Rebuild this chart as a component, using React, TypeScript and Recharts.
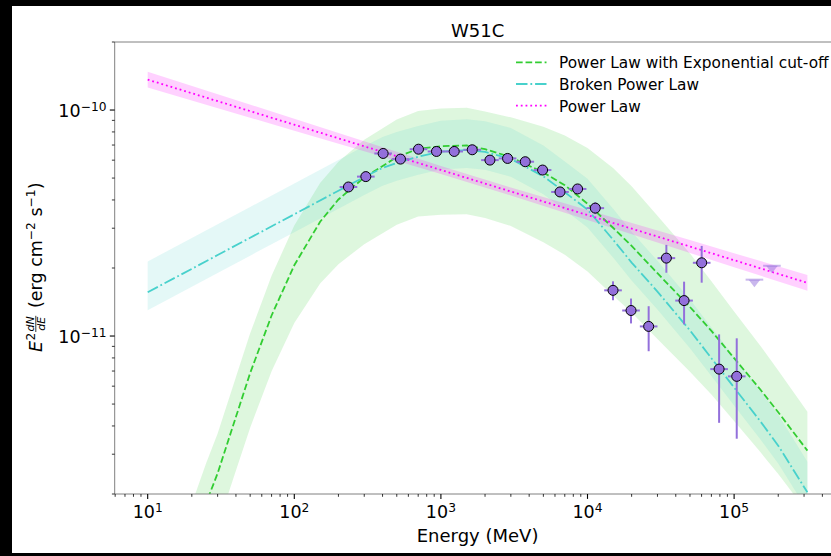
import React from 'react';
import { ComposedChart, XAxis, YAxis, Line, Area, Scatter, ErrorBar, ReferenceLine } from 'recharts';

// ---------- data ----------
// Power law with exponential cut-off (model curve + band)
const plecEnergy = [20, 25, 30, 40, 50, 70, 100, 150, 200, 300, 500, 700, 1000, 1500, 2000, 3000, 5000, 7000, 1e4, 1.5e4, 2e4, 3e4, 5e4, 7e4, 1e5, 1.5e5, 2e5, 316228];
const plecFlux = [1.21e-12, 1.82e-12, 2.47e-12, 4.39e-12, 6.86e-12, 1.233e-11, 2.056e-11, 3.204e-11, 4.02e-11, 5.03e-11, 6.19e-11, 6.73e-11, 6.92e-11, 6.97e-11, 6.71e-11, 6.19e-11, 5.29e-11, 4.65e-11, 3.85e-11, 3.006e-11, 2.505e-11, 1.896e-11, 1.344e-11, 1.054e-11, 7.98e-12, 5.83e-12, 4.6e-12, 3.11e-12];
const plecHi = [1.81e-12, 2.73e-12, 3.7e-12, 6.58e-12, 1.028e-11, 1.848e-11, 3.08e-11, 4.75e-11, 5.91e-11, 7.39e-11, 9.09e-11, 9.89e-11, 1.017e-10, 1.024e-10, 9.86e-11, 9.28e-11, 8.43e-11, 7.71e-11, 6.79e-11, 5.52e-11, 4.6e-11, 3.41e-11, 2.32e-11, 1.749e-11, 1.285e-11, 9.11e-12, 7.04e-12, 4.62e-12];
const plecLo = [7.29e-13, 1.074e-12, 1.443e-12, 2.54e-12, 3.93e-12, 6.99e-12, 1.142e-11, 1.708e-11, 2.08e-11, 2.55e-11, 3.11e-11, 3.38e-11, 3.44e-11, 3.46e-11, 3.33e-11, 3.07e-11, 2.6e-11, 2.29e-11, 1.932e-11, 1.508e-11, 1.27e-11, 9.71e-12, 6.95e-12, 5.51e-12, 4.21e-12, 3.08e-12, 2.45e-12, 1.66e-12];

// Broken power law
const bplEnergy = [10, 20, 30, 50, 100, 200, 300, 400, 500, 700, 1000, 1500, 2000, 3000, 5000, 7000, 1e4, 1.5e4, 2e4, 3e4, 5e4, 7e4, 1e5, 1.5e5, 2e5, 316228];
const bplFlux = [1.562e-11, 1.983e-11, 2.282e-11, 2.722e-11, 3.457e-11, 4.395e-11, 5.053e-11, 5.548e-11, 5.836e-11, 6.214e-11, 6.543e-11, 6.657e-11, 6.524e-11, 6.077e-11, 5.089e-11, 4.328e-11, 3.629e-11, 2.662e-11, 2.113e-11, 1.573e-11, 1.059e-11, 7.98e-12, 5.918e-12, 4.217e-12, 3.273e-12, 2.034e-12];
const bplHi = [2.138e-11, 2.715e-11, 3.124e-11, 3.726e-11, 4.733e-11, 6.017e-11, 6.918e-11, 7.595e-11, 7.989e-11, 8.507e-11, 8.957e-11, 9.113e-11, 8.931e-11, 8.319e-11, 6.967e-11, 5.925e-11, 4.968e-11, 3.644e-11, 2.893e-11, 2.153e-11, 1.45e-11, 1.092e-11, 8.1e-12, 5.77e-12, 4.48e-12, 2.78e-12];
const bplLo = [1.302e-11, 1.652e-11, 1.902e-11, 2.268e-11, 2.881e-11, 3.662e-11, 4.211e-11, 4.623e-11, 4.863e-11, 5.178e-11, 5.452e-11, 5.547e-11, 5.437e-11, 5.064e-11, 4.241e-11, 3.607e-11, 3.024e-11, 2.218e-11, 1.761e-11, 1.311e-11, 8.82e-12, 6.65e-12, 4.93e-12, 3.51e-12, 2.73e-12, 1.695e-12];

// Power law
const plEnergy = [10, 100, 300, 1000, 3000, 1e4, 5e4, 1e5, 316228];
const plFlux = [1.363e-10, 8.61e-11, 6.91e-11, 5.43e-11, 4.36e-11, 3.43e-11, 2.488e-11, 2.165e-11, 1.719e-11];
const plHi = [1.478e-10, 9.15e-11, 7.27e-11, 5.65e-11, 4.54e-11, 3.61e-11, 2.657e-11, 2.324e-11, 1.864e-11];
const plLo = [1.257e-10, 8.1e-11, 6.57e-11, 5.21e-11, 4.19e-11, 3.26e-11, 2.33e-11, 2.017e-11, 1.585e-11];

// Flux points
const ptEnergy = [234.1, 307.6, 403.7, 530.0, 703.4, 933.3, 1232.6, 1635.6, 2160, 2849, 3762, 4938, 6493, 8558, 11300, 14930, 19810, 26130, 34510, 45580, 60090, 79000, 104200];
const ptBinLo = [203.8, 267.8, 351.5, 461.4, 612.4, 812.6, 1073, 1424, 1881, 2480, 3275, 4299, 5653, 7451, 9838, 13000, 17250, 22750, 30050, 39680, 52320, 68780, 90720];
const ptBinHi = [268.9, 353.3, 463.7, 608.8, 807.9, 1072, 1416, 1879, 2481, 3272, 4321, 5672, 7458, 9830, 12980, 17150, 22750, 30010, 39640, 52350, 69020, 90740, 119700];
const ptFlux = [4.566e-11, 5.075e-11, 6.425e-11, 6.065e-11, 6.71e-11, 6.557e-11, 6.557e-11, 6.671e-11, 6.004e-11, 6.107e-11, 5.906e-11, 5.426e-11, 4.341e-11, 4.475e-11, 3.681e-11, 1.593e-11, 1.297e-11, 1.103e-11, 2.212e-11, 1.435e-11, 2.109e-11, 7.139e-12, 6.631e-12];
const ptFluxLo = [4.43e-11, 4.92e-11, 6.23e-11, 5.88e-11, 6.51e-11, 6.36e-11, 6.36e-11, 6.47e-11, 5.82e-11, 5.92e-11, 5.73e-11, 5.26e-11, 4.17e-11, 4.3e-11, 3.464e-11, 1.44e-11, 1.137e-11, 8.566e-12, 1.906e-11, 1.126e-11, 1.722e-11, 4.131e-12, 3.513e-12];
const ptFluxHi = [4.71e-11, 5.23e-11, 6.62e-11, 6.25e-11, 6.92e-11, 6.76e-11, 6.76e-11, 6.88e-11, 6.19e-11, 6.3e-11, 6.09e-11, 5.59e-11, 4.52e-11, 4.66e-11, 3.91e-11, 1.746e-11, 1.465e-11, 1.355e-11, 2.531e-11, 1.74e-11, 2.505e-11, 1.017e-11, 9.77e-12];

// Upper limits
const ulEnergy = [137600, 181100];
const ulBinLo = [119800, 157700];
const ulBinHi = [158000, 208000];
const ulFlux = [1.776e-11, 2.046e-11];

// Axis ticks
const xMajorTicks = [10, 100, 1000, 10000, 100000];
const xMinorTicks = [6, 7, 8, 9, 20, 30, 40, 50, 60, 70, 80, 90, 200, 300, 400, 500, 600, 700, 800, 900, 2000, 3000, 4000, 5000, 6000, 7000, 8000, 9000, 20000, 30000, 40000, 50000, 60000, 70000, 80000, 90000, 200000, 300000, 400000, 500000];
const yMajorTicks = [1e-11, 1e-10];
const yMinorTicks = [2e-12, 3e-12, 4e-12, 5e-12, 6e-12, 7e-12, 8e-12, 9e-12, 2e-11, 3e-11, 4e-11, 5e-11, 6e-11, 7e-11, 8e-11, 9e-11, 2e-10];

const legendEntries = [
  { name: 'Power Law with Exponential cut-off', color: '#32cd32', dash: '6.66 2.88' },
  { name: 'Broken Power Law', color: '#48d1cc', dash: '11.5 2.9 1.8 2.9' },
  { name: 'Power Law', color: '#ff00ff', dash: '1.8 2.97' },
];

const titleText = 'W51C';
const xLabelText = 'Energy (MeV)';

// ---------- tables for the library ----------
const plecLine = plecEnergy.map((e, i) => ({ e, f: plecFlux[i] }));
const plecBand = plecEnergy.map((e, i) => ({ e, r: [plecLo[i], plecHi[i]] }));
const bplLine = bplEnergy.map((e, i) => ({ e, f: bplFlux[i] }));
const bplBand = bplEnergy.map((e, i) => ({ e, r: [bplLo[i], bplHi[i]] }));
const plLine = plEnergy.map((e, i) => ({ e, f: plFlux[i] }));
const plBand = plEnergy.map((e, i) => ({ e, r: [plLo[i], plHi[i]] }));
const points = ptEnergy.map((e, i) => ({
  e,
  f: ptFlux[i],
  ey: [ptFlux[i] - ptFluxLo[i], ptFluxHi[i] - ptFlux[i]],
  ex: [e - ptBinLo[i], ptBinHi[i] - e],
}));
const uls = ulEnergy.map((e, i) => ({ e, f: ulFlux[i], ex: [e - ulBinLo[i], ulBinHi[i] - e] }));

const xTicks = [...xMajorTicks, ...xMinorTicks].sort((a, b) => a - b);
const yTicks = [...yMajorTicks, ...yMinorTicks].sort((a, b) => a - b);

const FONT = '"DejaVu Sans", sans-serif';
const CHART_W = 845;
const CHART_H = 556;
const PLOT_RIGHT = 840.4;
const X_DOMAIN = [Math.pow(10, 0.775), Math.pow(10, 5.725)];
const Y_DOMAIN = [2e-12, 2e-10];

const isMajor = (v: number) => Math.abs(Math.log10(v) - Math.round(Math.log10(v))) < 1e-6;

function XTick(props: any) {
  const { x, y, payload } = props;
  const v = payload.value;
  const major = isMajor(v);
  const exp = Math.round(Math.log10(v));
  return (
    <g>
      <line x1={x} x2={x} y1={y} y2={y + (major ? 4.9 : 2.8)} stroke="#000" strokeWidth={major ? 1.1 : 0.8} />
      {major && (
        <text x={x} y={y + 24.3} textAnchor="middle" fontFamily={FONT} fontSize={17.5} fill="#000">
          10<tspan dy={-6} fontSize={12.25}>{String(exp)}</tspan>
        </text>
      )}
    </g>
  );
}

function YTick(props: any) {
  const { x, y, payload } = props;
  const v = payload.value;
  const major = isMajor(v);
  const exp = Math.round(Math.log10(v));
  return (
    <g>
      <line x1={x - (major ? 4.9 : 2.8)} x2={x} y1={y} y2={y} stroke="#000" strokeWidth={major ? 1.1 : 0.8} />
      {major && (
        <text x={x - 8.2} y={y + 6.7} textAnchor="end" fontFamily={FONT} fontSize={17.5} fill="#000">
          10<tspan dy={-6} fontSize={12.25}>{'\u2212' + Math.abs(exp)}</tspan>
        </text>
      )}
    </g>
  );
}

const PointShape = (p: any) => (
  <circle cx={p.cx} cy={p.cy} r={5} fill="#9370DB" stroke="#000" strokeWidth={1} />
);

const UlShape = (p: any) => (
  <path
    d={`M${p.cx - 5.8},${p.cy} L${p.cx + 5.8},${p.cy} L${p.cx},${p.cy + 7.5} Z`}
    fill="rgba(147,112,219,0.5)"
  />
);

export default function App() {
  return (
    <div style={{ position: 'fixed', left: 0, top: 0, width: 831, height: 556, background: '#000', overflow: 'hidden' }}>
      <div style={{ position: 'absolute', left: 12, top: 6, width: 819, height: 547, background: '#fff' }} />
      <div style={{ position: 'absolute', left: 0, top: 0 }}>
        <ComposedChart
          width={CHART_W}
          height={CHART_H}
          margin={{ top: 42, right: CHART_W - PLOT_RIGHT, bottom: 0, left: 0 }}
        >
          <XAxis
            dataKey="e"
            type="number"
            scale="log"
            domain={X_DOMAIN}
            allowDataOverflow
            ticks={xTicks}
            interval={0}
            tickSize={0}
            tickMargin={0}
            tickLine={false}
            axisLine={{ stroke: '#808080', strokeWidth: 1 }}
            height={62}
            tick={<XTick />}
          />
          <YAxis
            type="number"
            scale="log"
            domain={Y_DOMAIN}
            allowDataOverflow
            ticks={yTicks}
            interval={0}
            tickSize={0}
            tickMargin={0}
            tickLine={false}
            axisLine={{ stroke: '#808080', strokeWidth: 1 }}
            width={114.7}
            tick={<YTick />}
          />
          <ReferenceLine y={2e-10} stroke="#808080" strokeWidth={1} ifOverflow="visible" />
          <Area data={plecBand} dataKey="r" type="linear" stroke="none" fill="#32cd32" fillOpacity={0.16} isAnimationActive={false} />
          <Area data={bplBand} dataKey="r" type="linear" stroke="none" fill="#48d1cc" fillOpacity={0.15} isAnimationActive={false} />
          <Area data={plBand} dataKey="r" type="linear" stroke="none" fill="#ff00ff" fillOpacity={0.18} isAnimationActive={false} />
          <Line data={plecLine} dataKey="f" type="linear" stroke="#32cd32" strokeWidth={1.8} strokeDasharray="6.66 2.88" dot={false} activeDot={false} isAnimationActive={false} />
          <Line data={bplLine} dataKey="f" type="linear" stroke="#48d1cc" strokeWidth={1.8} strokeDasharray="11.5 2.9 1.8 2.9" dot={false} activeDot={false} isAnimationActive={false} />
          <Line data={plLine} dataKey="f" type="linear" stroke="#ff00ff" strokeWidth={1.8} strokeDasharray="1.8 2.97" dot={false} activeDot={false} isAnimationActive={false} />
          <Scatter data={uls} dataKey="f" shape={UlShape} isAnimationActive={false}>
            <ErrorBar dataKey="ex" direction="x" width={0} stroke="rgba(147,112,219,0.5)" strokeWidth={2} />
          </Scatter>
          <Scatter data={points} dataKey="f" shape={PointShape} isAnimationActive={false}>
            <ErrorBar dataKey="ey" direction="y" width={0} stroke="#9370DB" strokeWidth={2} />
            <ErrorBar dataKey="ex" direction="x" width={0} stroke="#9370DB" strokeWidth={2} />
          </Scatter>
        </ComposedChart>
      </div>
      <svg width={831} height={556} style={{ position: 'absolute', left: 0, top: 0, pointerEvents: 'none' }} fontFamily={FONT}>
        <text x={477.6} y={36.5} textAnchor="middle" fontSize={18} fill="#000">{titleText}</text>
        <text x={477.6} y={541.5} textAnchor="middle" fontSize={18} fill="#000">{xLabelText}</text>
        <g transform="translate(42,352) rotate(-90)" fill="#000">
          <text x={0} y={0} fontSize={17.5} fontStyle="italic">E</text>
          <text x={11.6} y={-7} fontSize={12.25}>2</text>
          <text x={20.5} y={-8.5} fontSize={11} fontStyle="italic">dN</text>
          <line x1={20} x2={36.2} y1={-6.2} y2={-6.2} stroke="#000" strokeWidth={0.8} />
          <text x={21.2} y={3} fontSize={11} fontStyle="italic">dE</text>
          <text x={44} y={0} fontSize={17.5}>
            (erg cm<tspan dy={-7} fontSize={12.25}>{'\u22122'}</tspan>
            <tspan dy={7}> s</tspan>
            <tspan dy={-7} fontSize={12.25}>{'\u22121'}</tspan>
            <tspan dy={7}>)</tspan>
          </text>
        </g>
        {legendEntries.map((it, i) => (
          <g key={it.name}>
            <line x1={516} x2={546.5} y1={62.3 + 21.7 * i} y2={62.3 + 21.7 * i} stroke={it.color} strokeWidth={1.8} strokeDasharray={it.dash} />
            <text x={559} y={68.3 + 21.7 * i} fontSize={15.35} fill="#000">{it.name}</text>
          </g>
        ))}
      </svg>
    </div>
  );
}
